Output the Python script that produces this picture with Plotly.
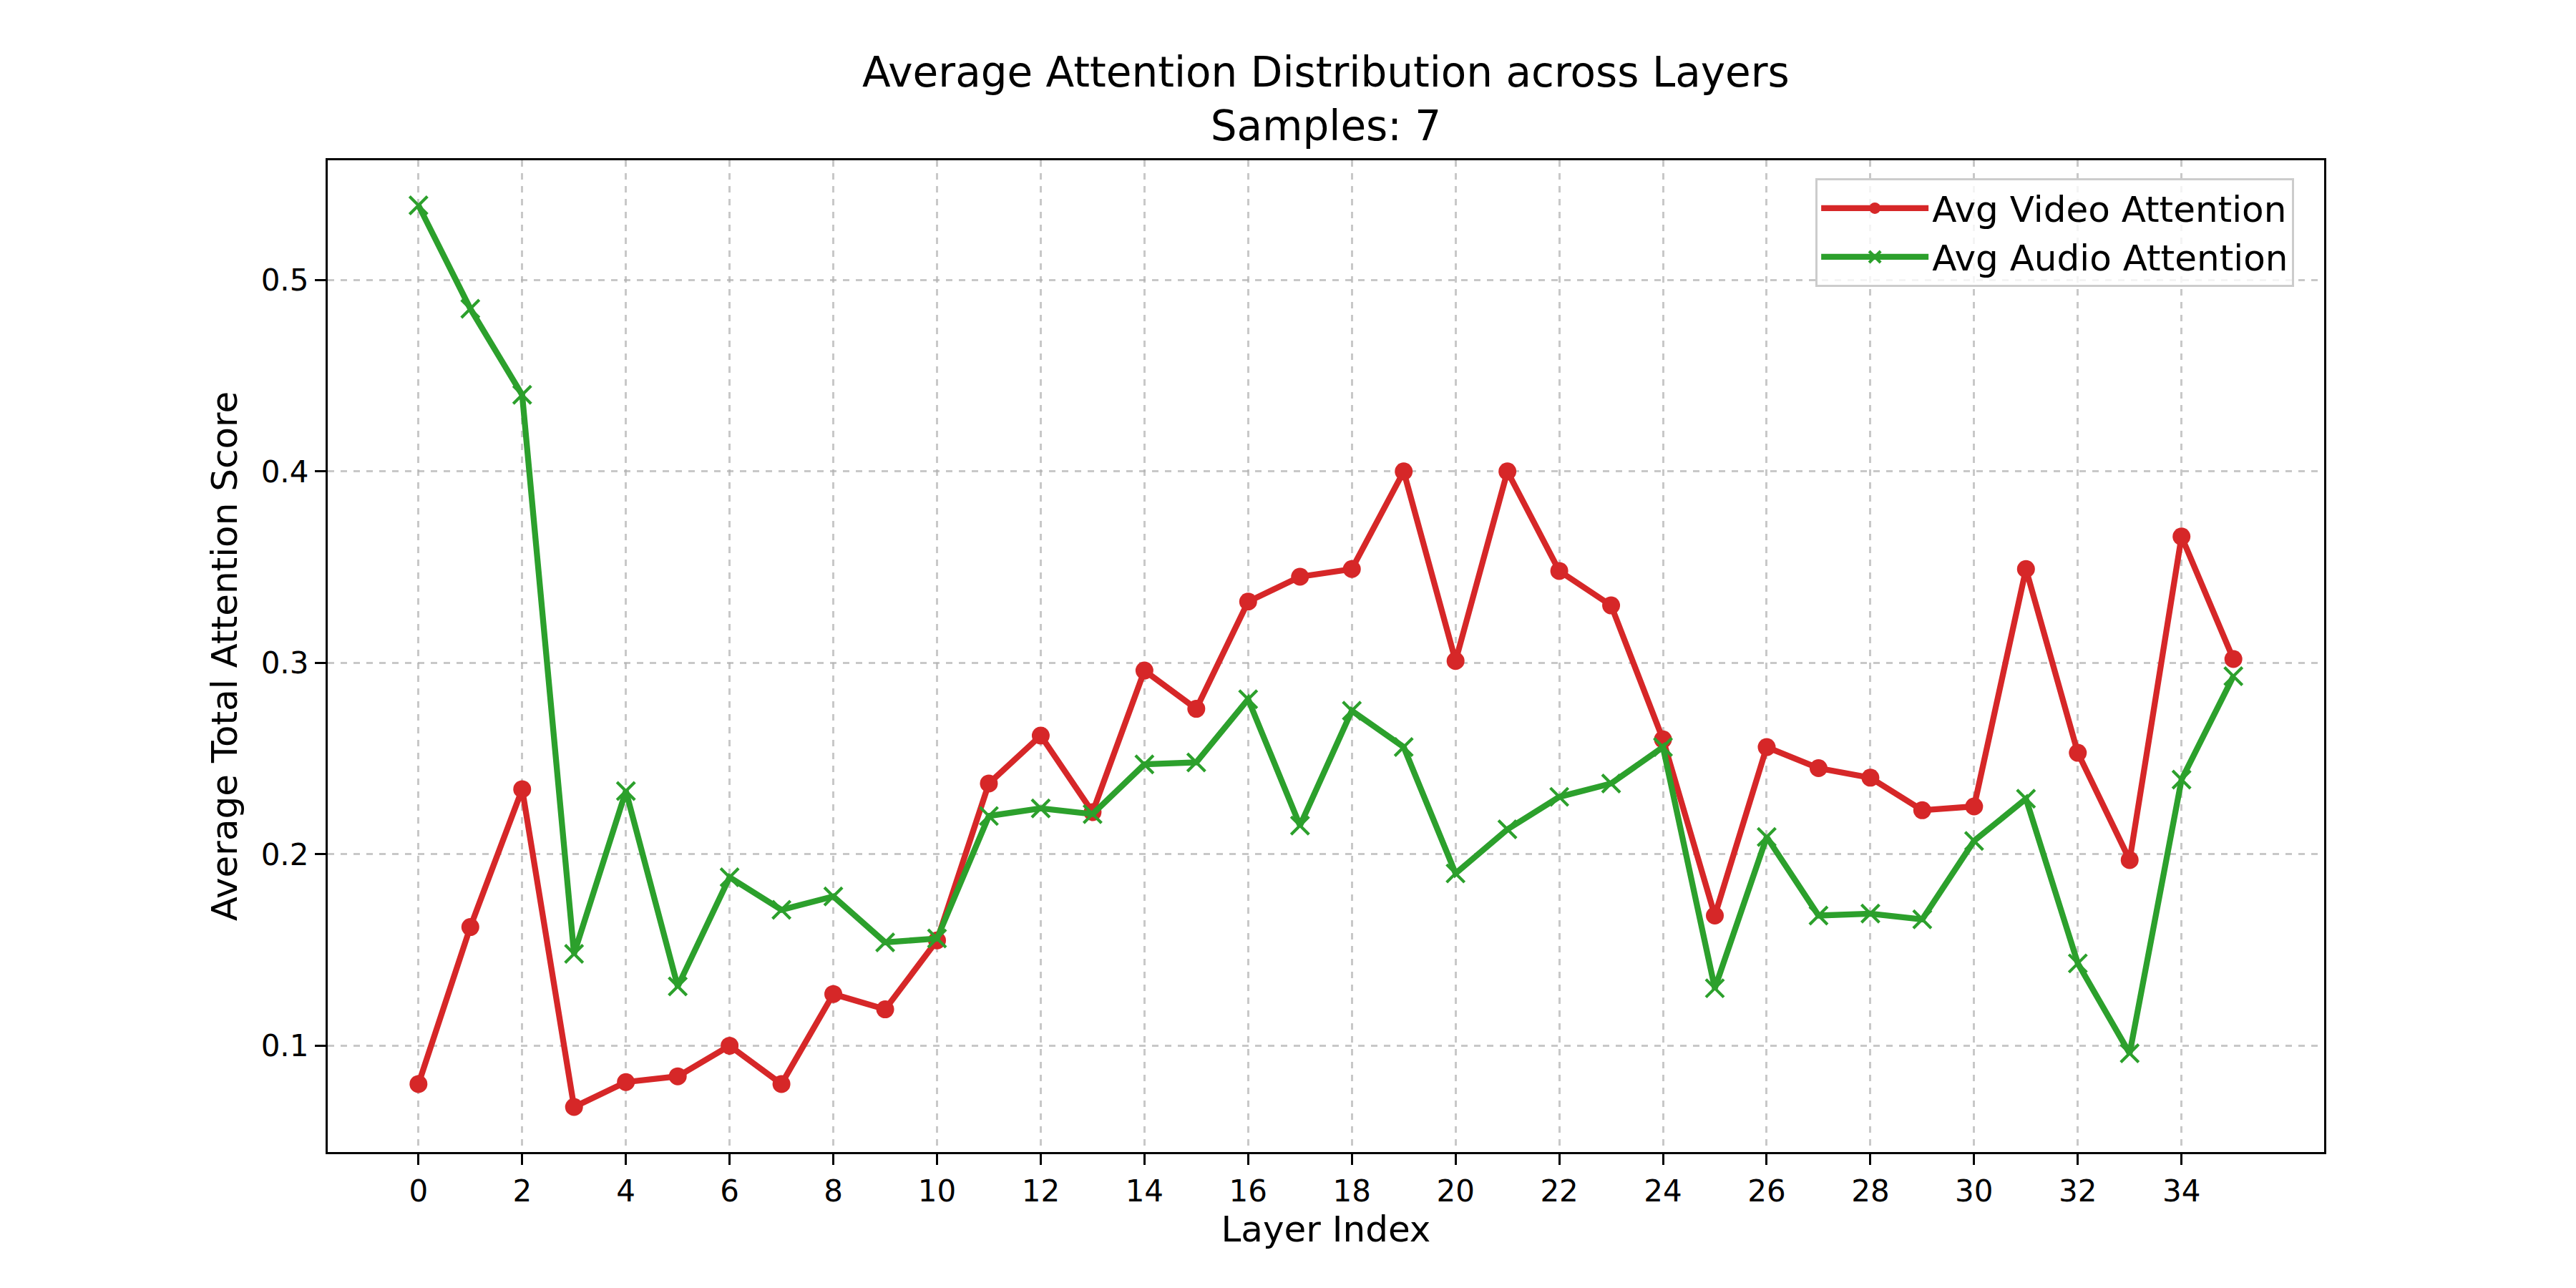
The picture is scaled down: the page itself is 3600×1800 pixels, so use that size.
import plotly.graph_objects as go

layers = list(range(36))
video_attention = [0.080, 0.162, 0.234, 0.068, 0.081, 0.084, 0.100, 0.080, 0.127, 0.119,
                   0.155, 0.237, 0.262, 0.222, 0.296, 0.276, 0.332, 0.345, 0.349, 0.400,
                   0.301, 0.400, 0.348, 0.330, 0.260, 0.168, 0.256, 0.245, 0.240, 0.223,
                   0.225, 0.349, 0.253, 0.197, 0.366, 0.302]
audio_attention = [0.539, 0.485, 0.440, 0.148, 0.233, 0.131, 0.188, 0.171, 0.178, 0.154,
                   0.156, 0.220, 0.224, 0.221, 0.247, 0.248, 0.281, 0.215, 0.275, 0.256,
                   0.190, 0.213, 0.230, 0.237, 0.256, 0.130, 0.209, 0.168, 0.169, 0.166,
                   0.207, 0.229, 0.143, 0.096, 0.239, 0.293]
x_ticks = list(range(0, 36, 2))
y_ticks = [0.1, 0.2, 0.3, 0.4, 0.5]
title_text = "Average Attention Distribution across Layers<br>Samples: 7"

FONT = "DejaVu Sans"
W, H = 3600, 1800
L, R, T, B = 450, 360, 216, 198

fig = go.Figure()
fig.add_trace(go.Scatter(
    x=layers, y=video_attention, mode="lines+markers", name="Avg Video Attention",
    line=dict(color="#d62728", width=8.3),
    marker=dict(symbol="circle", size=25, color="#d62728"),
))
fig.add_trace(go.Scatter(
    x=layers, y=audio_attention, mode="lines+markers", name="Avg Audio Attention",
    line=dict(color="#2ca02c", width=8.3),
    marker=dict(symbol="x-thin", size=25, color="#2ca02c",
                line=dict(color="#2ca02c", width=4.2)),
))

lo = min(min(video_attention), min(audio_attention))
hi = max(max(video_attention), max(audio_attention))
pad = (hi - lo) * 0.05
xpad = (layers[-1] - layers[0]) * 0.05

axis_common = dict(
    showline=True, linecolor="black", linewidth=3.3, mirror=True,
    ticks="outside", ticklen=15, tickwidth=3.3, tickcolor="black",
    showgrid=True, gridcolor="rgba(176,176,176,0.7)", gridwidth=3, griddash="dash",
    zeroline=False, tickfont=dict(family=FONT, size=42, color="black"),
)

fig.update_layout(
    width=W, height=H,
    margin=dict(l=L, r=R, t=T, b=B),
    paper_bgcolor="white", plot_bgcolor="white",
    font=dict(family=FONT, color="black"),
    xaxis=dict(
        range=[layers[0] - xpad, layers[-1] + xpad],
        tickvals=x_ticks, ticktext=[str(v) for v in x_ticks],
        title=dict(text="Layer Index", font=dict(family=FONT, size=50, color="black"), standoff=8),
        **axis_common,
    ),
    yaxis=dict(
        range=[lo - pad, hi + pad],
        tickvals=y_ticks, ticktext=[f"{v:.1f}" for v in y_ticks],
        title=dict(text="Average Total Attention Score", font=dict(family=FONT, size=50, color="black"), standoff=18),
        **axis_common,
    ),
    legend=dict(
        x=0.985, y=0.982, xanchor="right", yanchor="top",
        bgcolor="rgba(255,255,255,0.8)", bordercolor="#cccccc", borderwidth=3,
        font=dict(family=FONT, size=50, color="black"),
        itemwidth=150,
    ),
    showlegend=True,
    annotations=[dict(
        text=title_text, xref="paper", yref="paper", x=0.5, y=1,
        xanchor="center", yanchor="bottom", yshift=12, showarrow=False,
        font=dict(family=FONT, size=58, color="black"), align="center",
    )],
)

fig.write_html("out.html")
